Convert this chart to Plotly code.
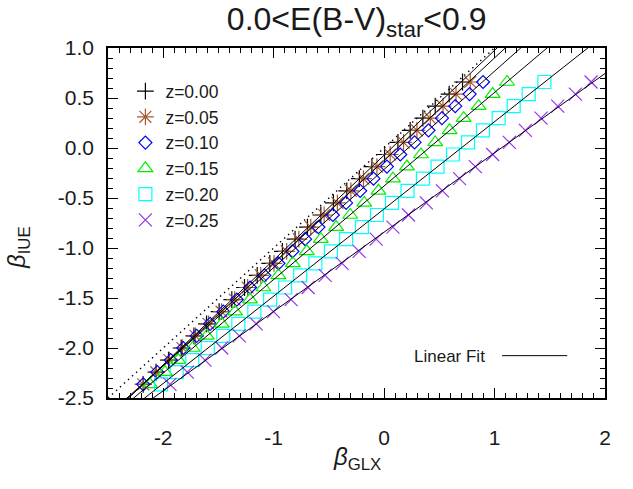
import plotly.graph_objects as go
import numpy as np

# beta_IUE levels shared by all redshift series
beta_iue = [-2.363, -2.242, -2.121, -2.000, -1.879, -1.758, -1.637, -1.516, -1.395,
            -1.274, -1.153, -1.033, -0.912, -0.791, -0.670, -0.549, -0.428, -0.307,
            -0.186, -0.065, 0.056, 0.177, 0.298, 0.418, 0.539, 0.660]

glx_z000 = [-2.181, -2.065, -1.952, -1.837, -1.722, -1.608, -1.494, -1.379, -1.264,
            -1.149, -1.035, -0.921, -0.806, -0.694, -0.573, -0.459, -0.338, -0.224,
            -0.111, 0.004, 0.125, 0.236, 0.351, 0.463, 0.589, 0.710]
glx_z005 = [-2.181, -2.063, -1.944, -1.826, -1.708, -1.590, -1.472, -1.353, -1.236,
            -1.117, -0.997, -0.882, -0.772, -0.664, -0.543, -0.423, -0.301, -0.187,
            -0.065, 0.055, 0.176, 0.297, 0.418, 0.533, 0.651, 0.780]
glx_z010 = [-2.181, -2.054, -1.932, -1.818, -1.697, -1.576, -1.456, -1.334, -1.214,
            -1.084, -0.957, -0.830, -0.715, -0.595, -0.464, -0.344, -0.217, -0.096,
            0.025, 0.146, 0.276, 0.402, 0.524, 0.644, 0.774, 0.896]
glx_z015 = [-2.120, -1.984, -1.864, -1.733, -1.606, -1.470, -1.350, -1.214, -1.093,
            -0.957, -0.827, -0.700, -0.573, -0.434, -0.307, -0.180, -0.051, 0.080,
            0.207, 0.334, 0.463, 0.593, 0.720, 0.856, 0.983, 1.113]
glx_z020 = [-2.020, -1.878, -1.737, -1.597, -1.456, -1.320, -1.175, -1.032, -0.896,
            -0.760, -0.622, -0.482, -0.344, -0.201, -0.065, 0.071, 0.212, 0.352,
            0.484, 0.624, 0.760, 0.895, 1.037, 1.173, 1.309, 1.451]
glx_z025 = [-1.939, -1.782, -1.622, -1.470, -1.311, -1.159, -1.002, -0.842, -0.688,
            -0.534, -0.380, -0.226, -0.072, 0.080, 0.221, 0.382, 0.529, 0.683,
            0.826, 0.983, 1.134, 1.279, 1.421, 1.572, 1.732, 1.874]

series_names = ["z=0.00", "z=0.05", "z=0.10", "z=0.15", "z=0.20", "z=0.25"]
series_x = [glx_z000, glx_z005, glx_z010, glx_z015, glx_z020, glx_z025]
series_colors = ["#000000", "#A65A32", "#0000FF", "#00F000", "#00FFFF", "#9933EE"]
series_symbols = ["cross-thin", "asterisk", "diamond-open", "triangle-up-open",
                  "square-open", "x-thin"]
series_sizes = [12, 14, 10, 13, 13, 13]

x_range = [-2.5, 2.0]
y_range = [-2.5, 1.0]
x_ticks = [-2, -1, 0, 1, 2]
y_ticks = [-2.5, -2.0, -1.5, -1.0, -0.5, 0.0, 0.5, 1.0]
y_ticktext = ["-2.5", "-2.0", "-1.5", "-1.0", "-0.5", "0.0", "0.5", "1.0"]

FONT = "Liberation Sans, Arial, Helvetica, sans-serif"
TXT = "#1a1a1a"

fig = go.Figure()

# one-to-one reference line (dotted)
fig.add_trace(go.Scatter(x=x_range, y=x_range, mode="lines",
                         line=dict(color="black", width=1.4, dash="1.4px,4px"),
                         showlegend=False, hoverinfo="skip"))

for name, xs, col, sym, sz in zip(series_names, series_x, series_colors,
                                  series_symbols, series_sizes):
    fig.add_trace(go.Scatter(
        x=xs, y=beta_iue, mode="markers", name=name,
        marker=dict(symbol=sym, size=sz, color=col,
                    line=dict(color=col, width=1.2)),
    ))

# linear fits
for xs in series_x:
    slope, icpt = np.polyfit(xs, beta_iue, 1)
    fx = np.array(x_range)
    fig.add_trace(go.Scatter(x=fx, y=slope * fx + icpt, mode="lines",
                             line=dict(color="black", width=1),
                             showlegend=False, hoverinfo="skip"))

axis_common = dict(
    showline=True, linecolor="black", linewidth=1.5, mirror="ticks",
    ticks="inside", ticklen=10, tickwidth=1, tickcolor="black",
    showgrid=False, zeroline=False,
    tickfont=dict(family=FONT, size=21, color=TXT),
)

fig.update_xaxes(range=x_range, tickvals=x_ticks, ticktext=[str(v) for v in x_ticks],
                 minor=dict(dtick=0.1, tick0=0, ticks="inside", ticklen=5,
                            tickcolor="black", tickwidth=1),
                 ticklabelstandoff=20, **axis_common)
fig.update_yaxes(range=y_range, tickvals=y_ticks, ticktext=y_ticktext,
                 minor=dict(dtick=0.1, tick0=0, ticks="inside", ticklen=5,
                            tickcolor="black", tickwidth=1),
                 ticklabelstandoff=8, **axis_common)

fig.update_layout(
    width=633, height=489,
    margin=dict(l=108, r=28, t=48, b=91),
    paper_bgcolor="white", plot_bgcolor="white",
    font=dict(family=FONT, color=TXT),
    title=dict(text="0.0&lt;E(B-V)<sub>star</sub>&lt;0.9",
               font=dict(family=FONT, size=32, color=TXT),
               x=0.5635, xanchor="center", xref="container",
               y=0.962, yanchor="middle", yref="container"),
    legend=dict(x=0.035, y=0.928, xanchor="left", yanchor="top",
                bgcolor="rgba(0,0,0,0)", borderwidth=0,
                font=dict(family=FONT, size=17.5, color=TXT),
                itemwidth=30, tracegroupgap=0),
    annotations=[
        dict(text="<i>β</i><sub>GLX</sub>", x=0.5, xref="paper", xanchor="center",
             y=-0.172, yref="paper", yanchor="middle", showarrow=False,
             font=dict(family=FONT, size=24, color=TXT)),
        dict(text="<i>β</i><sub>IUE</sub>", x=-0.18, xref="paper", xanchor="center",
             y=0.43, yref="paper", yanchor="middle", textangle=-90, showarrow=False,
             font=dict(family=FONT, size=24, color=TXT)),
        dict(text="Linear Fit", x=0.763, xref="paper", xanchor="right",
             y=0.12, yref="paper", yanchor="middle", showarrow=False,
             font=dict(family=FONT, size=17, color=TXT)),
    ],
    shapes=[dict(type="line", xref="paper", yref="paper",
                 x0=0.793, x1=0.924, y0=0.121, y1=0.121,
                 line=dict(color="black", width=1))],
)

fig.write_html("out.html")
